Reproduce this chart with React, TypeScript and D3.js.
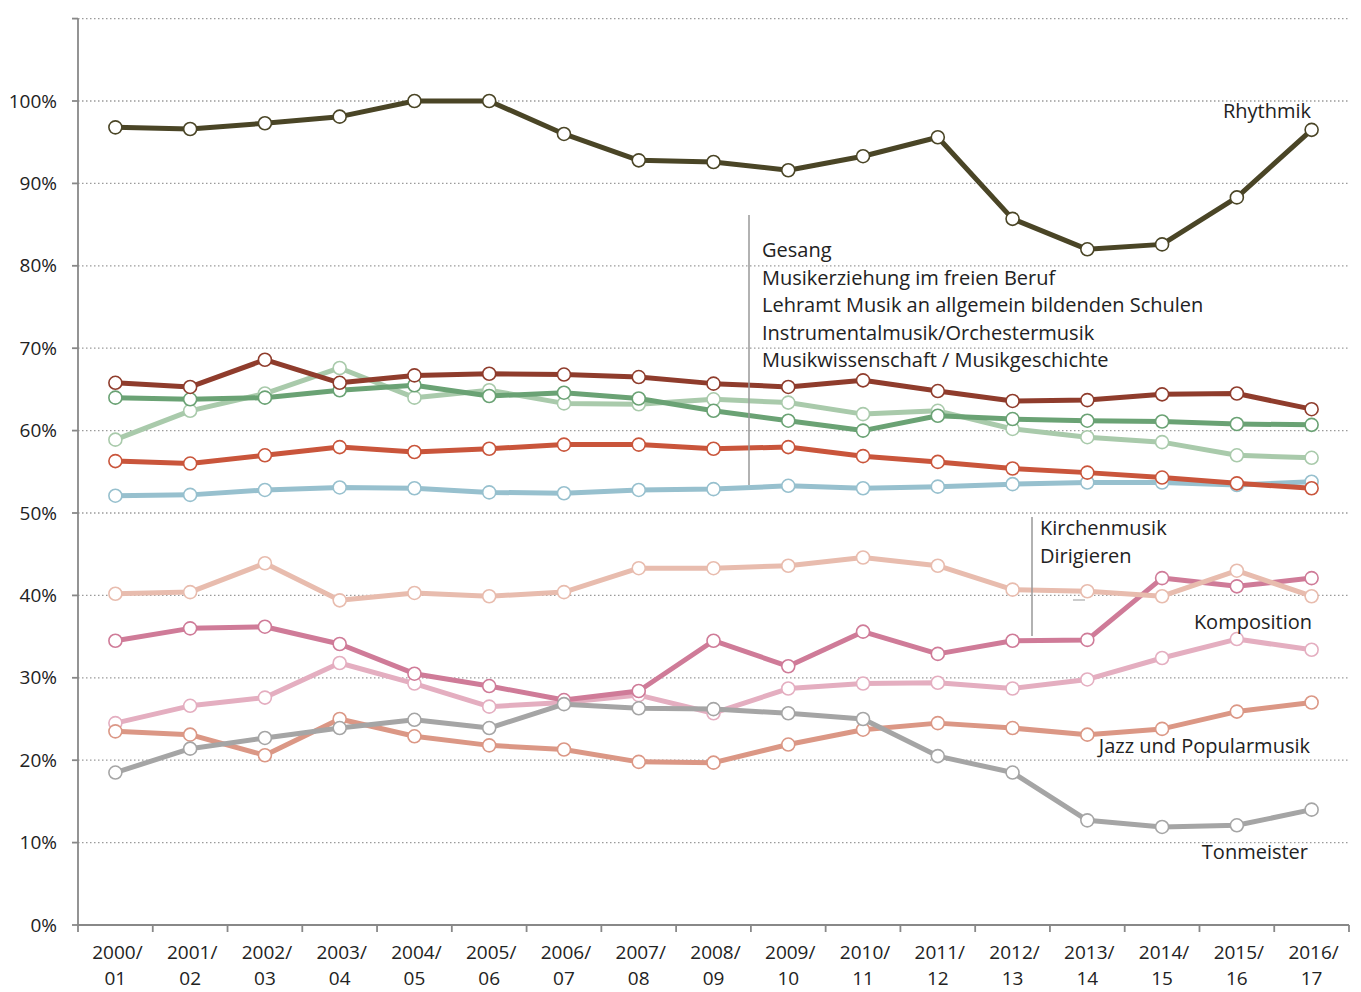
import React from 'react';
import * as d3 from 'd3';

// categories (school years)
const years = ['2000/01', '2001/02', '2002/03', '2003/04', '2004/05', '2005/06', '2006/07', '2007/08', '2008/09',
  '2009/10', '2010/11', '2011/12', '2012/13', '2013/14', '2014/15', '2015/16', '2016/17'];

// values in percent
const rhythmik = [96.8, 96.6, 97.3, 98.1, 100, 100, 96.0, 92.8, 92.6, 91.6, 93.3, 95.6, 85.7, 82.0, 82.6, 88.3, 96.5];
const gesang = [65.8, 65.3, 68.6, 65.8, 66.7, 66.9, 66.8, 66.5, 65.7, 65.3, 66.1, 64.8, 63.6, 63.7, 64.4, 64.5, 62.6];
const musikerziehung = [64.0, 63.8, 64.0, 64.9, 65.5, 64.2, 64.6, 63.9, 62.4, 61.2, 60.0, 61.8, 61.4, 61.2, 61.1, 60.8, 60.7];
const lehramt = [58.9, 62.4, 64.5, 67.6, 64.0, 64.9, 63.3, 63.2, 63.8, 63.4, 62.0, 62.4, 60.2, 59.2, 58.6, 57.0, 56.7];
const instrumental = [56.3, 56.0, 57.0, 58.0, 57.4, 57.8, 58.3, 58.3, 57.8, 58.0, 56.9, 56.2, 55.4, 54.9, 54.3, 53.6, 53.0];
const musikwiss = [52.1, 52.2, 52.8, 53.1, 53.0, 52.5, 52.4, 52.8, 52.9, 53.3, 53.0, 53.2, 53.5, 53.7, 53.7, 53.4, 53.8];
const kirchenmusik = [40.2, 40.4, 43.9, 39.4, 40.3, 39.9, 40.4, 43.3, 43.3, 43.6, 44.6, 43.6, 40.7, 40.5, 39.9, 43.0, 39.9];
const dirigieren = [34.5, 36.0, 36.2, 34.1, 30.5, 29.0, 27.3, 28.4, 34.5, 31.4, 35.6, 32.9, 34.5, 34.6, 42.1, 41.1, 42.1];
const komposition = [24.5, 26.6, 27.6, 31.8, 29.3, 26.5, 27.0, 27.9, 25.7, 28.7, 29.3, 29.4, 28.7, 29.8, 32.4, 34.7, 33.4];
const jazz = [23.5, 23.1, 20.6, 25.0, 22.9, 21.8, 21.3, 19.8, 19.7, 21.9, 23.7, 24.5, 23.9, 23.1, 23.8, 25.9, 27.0];
const tonmeister = [18.5, 21.4, 22.7, 23.9, 24.9, 23.9, 26.8, 26.3, 26.2, 25.7, 25.0, 20.5, 18.5, 12.7, 11.9, 12.1, 14.0];

const yTicks = [0, 10, 20, 30, 40, 50, 60, 70, 80, 90, 100, 110];

const series = [
  { name: 'Komposition', values: komposition, color: '#e4aec0' },
  { name: 'Dirigieren', values: dirigieren, color: '#cf7b98' },
  { name: 'Kirchenmusik', values: kirchenmusik, color: '#e8bcae' },
  { name: 'Jazz und Popularmusik', values: jazz, color: '#db9785' },
  { name: 'Tonmeister', values: tonmeister, color: '#a5a5a5' },
  { name: 'Musikwissenschaft / Musikgeschichte', values: musikwiss, color: '#97c0ce' },
  { name: 'Instrumentalmusik/Orchestermusik', values: instrumental, color: '#c9553b' },
  { name: 'Lehramt Musik an allgemein bildenden Schulen', values: lehramt, color: '#a9caab' },
  { name: 'Musikerziehung im freien Beruf', values: musikerziehung, color: '#6aa274' },
  { name: 'Gesang', values: gesang, color: '#8f3c2c' },
  { name: 'Rhythmik', values: rhythmik, color: '#4a4526' },
];

const legendTop = ['Gesang', 'Musikerziehung im freien Beruf', 'Lehramt Musik an allgemein bildenden Schulen',
  'Instrumentalmusik/Orchestermusik', 'Musikwissenschaft / Musikgeschichte'];
const legendMid = ['Kirchenmusik', 'Dirigieren'];

const font = '"Open Sans", Lato, sans-serif';

export default function App() {
  const left = 78, right = 1349, top = 19, bottom = 925;

  const x = d3.scaleBand().domain(years).range([left, right]).padding(0);
  const cx = (d: string) => (x(d) as number) + x.bandwidth() / 2;
  const y = d3.scaleLinear().domain([0, 100]).range([bottom, 101]);

  const line = d3.line<number>()
    .x((d, i) => cx(years[i]))
    .y(d => y(d));

  return (
    <svg width={1361} height={992} style={{ position: 'absolute', left: 0, top: 0, background: '#fff' }}
      fontFamily={font}>
      {/* grid */}
      {yTicks.filter(t => t > 0).map(t => (
        <line key={t} x1={left} x2={right} y1={y(t)} y2={y(t)} stroke="#9a9a9a" strokeWidth={1.3}
          strokeDasharray="1.5,2.5" />
      ))}
      {/* y axis */}
      <line x1={left} x2={left} y1={top} y2={bottom} stroke="#888" strokeWidth={1.8} />
      {yTicks.map(t => (
        <g key={t}>
          <line x1={left - 6} x2={left} y1={y(t)} y2={y(t)} stroke="#888" strokeWidth={1.8} />
          {t <= 100 && (
            <text x={57} y={y(t)} dy="0.35em" textAnchor="end" fontSize={19} fill="#222">{t}%</text>
          )}
        </g>
      ))}
      {/* x axis */}
      <line x1={left} x2={right} y1={bottom} y2={bottom} stroke="#888" strokeWidth={1.8} />
      {years.map(yr => (
        <line key={yr} x1={x(yr)} x2={x(yr)} y1={bottom} y2={bottom + 7} stroke="#888" strokeWidth={1.8} />
      ))}
      <line x1={right} x2={right} y1={bottom} y2={bottom + 7} stroke="#888" strokeWidth={1.8} />
      {years.map(yr => {
        const [a, b] = yr.split('/');
        return (
          <text key={yr} x={cx(yr)} textAnchor="middle" fontSize={19} fill="#222">
            <tspan x={cx(yr) + 2} y={959}>{a}/</tspan>
            <tspan x={cx(yr)} y={985}>{b}</tspan>
          </text>
        );
      })}

      {/* series */}
      {series.map(s => (
        <g key={s.name}>
          <path d={line(s.values) || ''} fill="none" stroke={s.color} strokeWidth={5} strokeLinejoin="round" />
          {s.values.map((v, i) => (
            <circle key={i} cx={cx(years[i])} cy={y(v)} r={6.5} fill="#fff" stroke={s.color} strokeWidth={1.6} />
          ))}
        </g>
      ))}

      {/* labels */}
      <text x={1311} y={111} dy="0.35em" textAnchor="end" fontSize={20} fill="#222">Rhythmik</text>
      <line x1={749} x2={749} y1={215} y2={485} stroke="#999" strokeWidth={1.5} />
      {legendTop.map((t, i) => (
        <text key={t} x={762} y={250 + i * 27.5} dy="0.35em" fontSize={20} fill="#222">{t}</text>
      ))}
      <line x1={1032} x2={1032} y1={517} y2={636} stroke="#999" strokeWidth={1.5} />
      <line x1={1073} x2={1085} y1={600} y2={600} stroke="#aaa" strokeWidth={1.2} />
      {legendMid.map((t, i) => (
        <text key={t} x={1040} y={528 + i * 28} dy="0.35em" fontSize={20} fill="#222">{t}</text>
      ))}
      <text x={1312} y={622} dy="0.35em" textAnchor="end" fontSize={20} fill="#222">Komposition</text>
      <text x={1310} y={746} dy="0.35em" textAnchor="end" fontSize={20} fill="#222">Jazz und Popularmusik</text>
      <text x={1308} y={852} dy="0.35em" textAnchor="end" fontSize={20} fill="#222">Tonmeister</text>
    </svg>
  );
}
